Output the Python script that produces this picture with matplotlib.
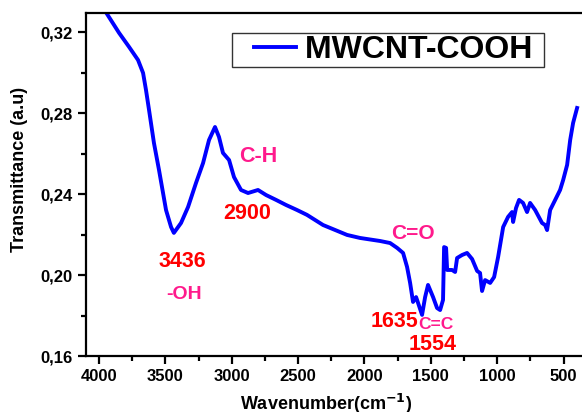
import matplotlib
matplotlib.use("Agg")
import matplotlib.pyplot as plt
from matplotlib.ticker import MultipleLocator, FuncFormatter
from matplotlib.legend_handler import HandlerLine2D

plt.rcParams['font.family'] = ['Liberation Sans', 'DejaVu Sans']
plt.rcParams['font.weight'] = 'bold'

# FTIR spectrum
wavenumber = [3950, 3849, 3774, 3706, 3668, 3646, 3623, 3586, 3548, 3495, 3457, 3436,
              3382, 3329, 3269, 3216, 3171, 3126, 3096, 3066, 3020, 2983, 2930, 2877,
              2802, 2741, 2666, 2591, 2508, 2433, 2312, 2131, 2033, 1882, 1807, 1754,
              1709, 1679, 1656, 1634, 1611, 1596, 1566, 1543, 1521, 1483, 1453, 1430,
              1408, 1400, 1385, 1377, 1340, 1317, 1302, 1264, 1227, 1189, 1151, 1129,
              1114, 1091, 1053, 1023, 993, 955, 918, 888, 880, 858, 835, 805,
              775, 752, 714, 662, 639, 624, 601, 563, 526, 503, 473, 450,
              428, 398]
transmittance = [0.330, 0.3196, 0.3127, 0.3062, 0.2998, 0.2914, 0.2815, 0.2652, 0.2519, 0.2321, 0.2237, 0.2208,
                 0.2257, 0.2336, 0.2455, 0.2553, 0.2667, 0.2731, 0.2682, 0.2603, 0.2568, 0.2484, 0.2420, 0.2405,
                 0.2420, 0.2395, 0.2371, 0.2346, 0.2321, 0.2297, 0.2247, 0.2198, 0.2183, 0.2168, 0.2158, 0.2134,
                 0.2109, 0.2040, 0.1961, 0.1867, 0.1891, 0.1862, 0.1803, 0.1891, 0.1951, 0.1891, 0.1837, 0.1827,
                 0.1877, 0.2138, 0.2134, 0.2025, 0.2025, 0.2015, 0.2084, 0.2099, 0.2109, 0.2079, 0.2020, 0.2010,
                 0.1921, 0.1975, 0.1961, 0.1990, 0.2089, 0.2237, 0.2287, 0.2311, 0.2262, 0.2331, 0.2371, 0.2356,
                 0.2311, 0.2356, 0.2321, 0.2257, 0.2247, 0.2222, 0.2321, 0.2371, 0.2420, 0.2469, 0.2544, 0.2667,
                 0.2751, 0.2825]

# annotations: (text, wavenumber, transmittance, colour, size)
red = '#ff0000'
pink = '#ff1a8c'
labels = [('C-H', 2802, 0.2583, pink, 15.5),
          ('2900', 2885, 0.2306, red, 15.5),
          ('3436', 3375, 0.2069, red, 15.5),
          ('-OH', 3359, 0.1906, pink, 14),
          ('C=O', 1634, 0.2203, pink, 15),
          ('1635', 1777, 0.1768, red, 15.5),
          ('C=C', 1460, 0.1758, pink, 12.5),
          ('1554', 1483, 0.1659, red, 15.5)]

fig = plt.figure(figsize=(5.82, 4.12), dpi=100)
ax = fig.add_axes([0.1473, 0.1359, 0.8552, 0.8325])

ax.plot(wavenumber, transmittance, color='#0000ff', lw=2.8, label='MWCNT-COOH ')

for txt, x, y, c, s in labels:
    ax.text(x, y, txt, color=c, fontsize=s, fontweight='bold', ha='center', va='center')

ax.set_xlim(4100, 350)
ax.set_ylim(0.16, 0.3294)
ax.xaxis.set_major_locator(MultipleLocator(500))
ax.xaxis.set_minor_locator(MultipleLocator(250))
ax.yaxis.set_major_locator(MultipleLocator(0.04))
ax.yaxis.set_minor_locator(MultipleLocator(0.02))
ax.yaxis.set_major_formatter(FuncFormatter(lambda v, p: f'{v:.2f}'.replace('.', ',')))

ax.tick_params(which='major', direction='out', length=6, width=1.6, labelsize=12)
ax.tick_params(which='minor', direction='out', length=3.5, width=1.6)
for sp in ax.spines.values():
    sp.set_linewidth(1.6)

ax.set_ylabel('Transmittance (a.u)', fontsize=13, fontweight='bold')
ax.set_xlabel('Wavenumber(cm$^{\\mathbf{-1}}$)', fontsize=13, fontweight='bold')
ax.yaxis.set_label_coords(-0.116, 0.545)
ax.xaxis.set_label_coords(0.483, -0.105)

leg = ax.legend(loc='upper left', bbox_to_anchor=(232 / 582, 1 - 33 / 412),
                bbox_transform=fig.transFigure, borderaxespad=0,
                prop={'weight': 'bold', 'size': 23}, frameon=True, fancybox=False,
                borderpad=0.06, handlelength=1.94, handletextpad=0.3,
                handler_map={plt.Line2D: HandlerLine2D(xpad=0.62)})
leg.get_frame().set_edgecolor('black')
leg.get_frame().set_linewidth(1.0)

fig.savefig('out.png', dpi=100)
